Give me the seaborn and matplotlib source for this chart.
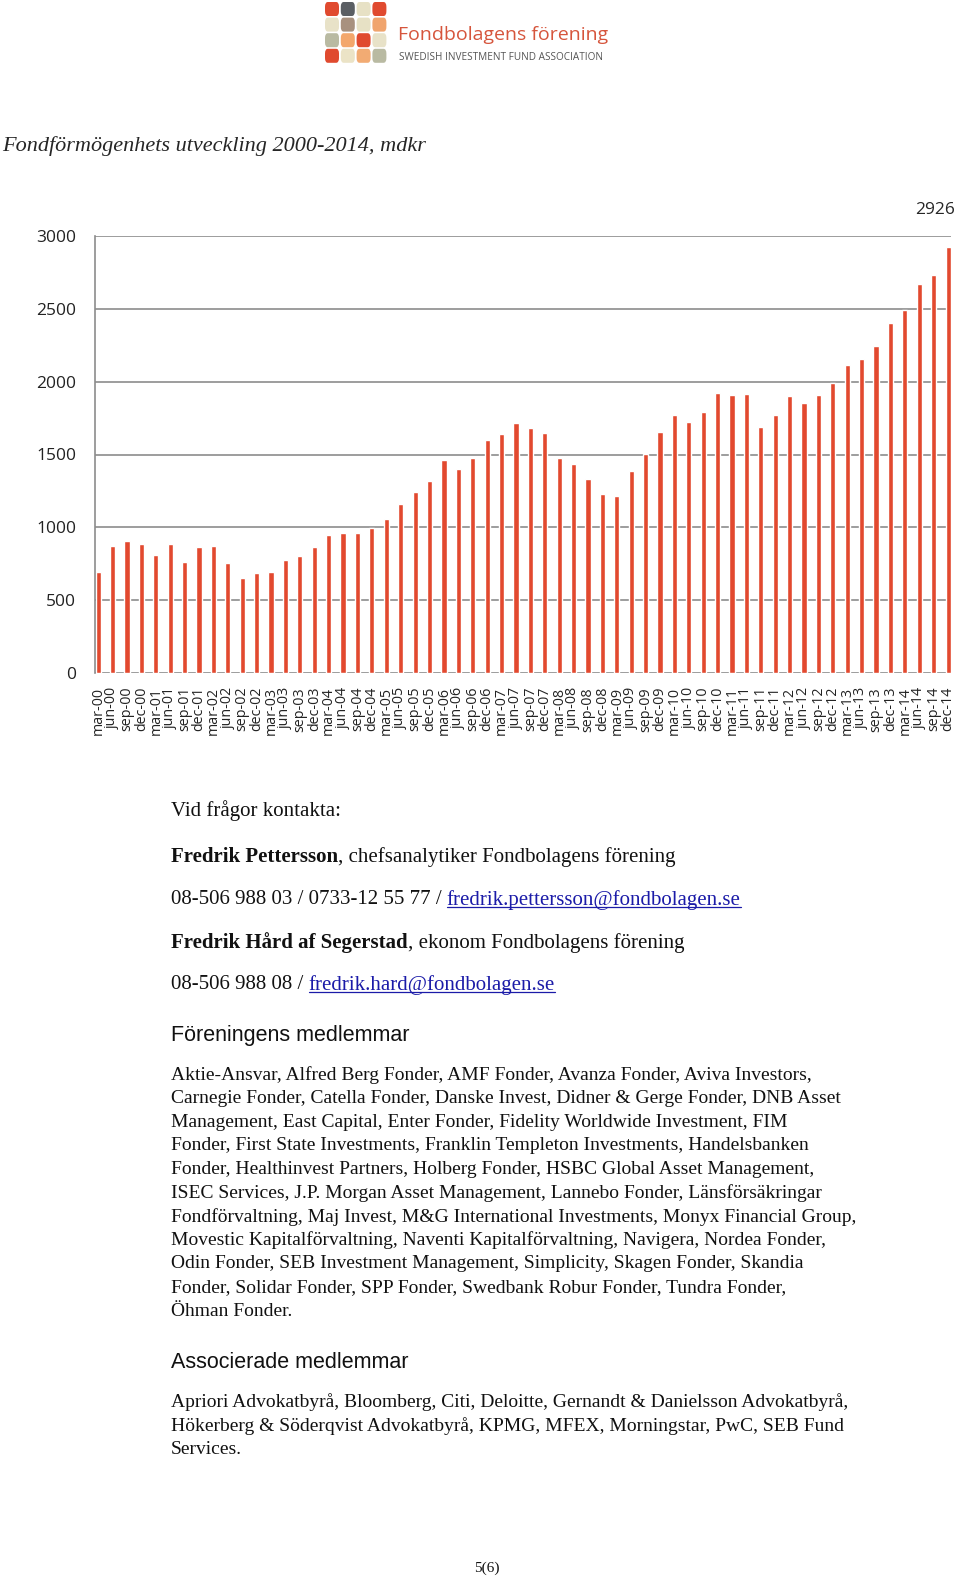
import matplotlib
matplotlib.use("Agg")
import matplotlib.pyplot as plt
import seaborn as sns
from matplotlib.patches import FancyBboxPatch
from matplotlib.lines import Line2D

# Fund assets per quarter, mdkr
quarters = [f"{m}-{y:02d}" for y in range(0, 15) for m in ["mar", "jun", "sep", "dec"]]
assets = [
    693, 873, 907, 887, 807, 887, 763, 863, 873, 756, 651, 688,
    693, 775, 805, 863, 948, 960, 958, 994, 1060, 1157, 1242, 1317,
    1461, 1400, 1473, 1599, 1638, 1715, 1685, 1650, 1478, 1434, 1334, 1232,
    1215, 1388, 1505, 1655, 1772, 1723, 1789, 1923, 1911, 1913, 1689, 1772,
    1901, 1855, 1911, 1993, 2117, 2154, 2248, 2406, 2489, 2671, 2735, 2926,
]
y_ticks = [0, 500, 1000, 1500, 2000, 2500, 3000]

logo_colors = [
    ["#e04a2f", "#5b5f64", "#e7e1c5", "#e04a2f"],
    ["#e8e2c8", "#a8917f", "#e7e1c5", "#f0a46d"],
    ["#b9baa2", "#f3a76c", "#e04a2f", "#e8e2c8"],
    ["#e04a2f", "#ebe3c6", "#f2ab73", "#b9baa2"],
]

members = [
    "Aktie-Ansvar, Alfred Berg Fonder, AMF Fonder, Avanza Fonder, Aviva Investors,",
    "Carnegie Fonder, Catella Fonder, Danske Invest, Didner & Gerge Fonder, DNB Asset",
    "Management, East Capital, Enter Fonder, Fidelity Worldwide Investment, FIM",
    "Fonder, First State Investments, Franklin Templeton Investments, Handelsbanken",
    "Fonder, Healthinvest Partners, Holberg Fonder, HSBC Global Asset Management,",
    "ISEC Services, J.P. Morgan Asset Management, Lannebo Fonder, Länsförsäkringar",
    "Fondförvaltning, Maj Invest, M&G International Investments, Monyx Financial Group,",
    "Movestic Kapitalförvaltning, Naventi Kapitalförvaltning, Navigera, Nordea Fonder,",
    "Odin Fonder, SEB Investment Management, Simplicity, Skagen Fonder, Skandia",
    "Fonder, Solidar Fonder, SPP Fonder, Swedbank Robur Fonder, Tundra Fonder,",
    "Öhman Fonder.",
]
associates = [
    "Apriori Advokatbyrå, Bloomberg, Citi, Deloitte, Gernandt & Danielsson Advokatbyrå,",
    "Hökerberg & Söderqvist Advokatbyrå, KPMG, MFEX, Morningstar, PwC, SEB Fund",
    "Services.",
]

BAR = "#e2492f"
GRID = "#8c8c8c"
LINK = "#1b1ba8"
INK = "#111111"
W, H = 960, 1579

sns.set_style("white")
plt.rcParams["font.family"] = ["Open Sans", "DejaVu Sans"]

fig = plt.figure(figsize=(W / 100, H / 100), dpi=100)


def fx(px):
    return px / W


def fy(py):
    return 1 - py / H


# logo
for r, row in enumerate(logo_colors):
    for c, col in enumerate(row):
        x0 = 325 + c * 15.8
        y0 = 2 + r * 15.6
        fig.patches.append(FancyBboxPatch(
            (fx(x0), fy(y0 + 14)), fx(14), 14 / H,
            boxstyle="round,pad=0,rounding_size=0.003",
            transform=fig.transFigure, facecolor=col, edgecolor="none"))
fig.text(fx(398), fy(35), "Fondbolagens förening", color="#d6553c",
         fontsize=14, va="center", ha="left")
fig.text(fx(399), fy(58), "SWEDISH INVESTMENT FUND ASSOCIATION", color="#555555",
         fontsize=7.2, va="center", ha="left")

# title
fig.text(fx(2), fy(146), "Fondförmögenhets utveckling 2000-2014, mdkr",
         family="Liberation Serif", style="italic", fontsize=16, va="center")

# chart
ax = fig.add_axes([fx(95), fy(673), fx(951 - 95), (673 - 236) / H])
sns.barplot(x=quarters, y=assets, color=BAR, saturation=1, width=0.36, ax=ax)
ax.set_ylim(0, 3000)
ax.set_xlim(-0.22, len(quarters) - 0.8)
ax.set_yticks(y_ticks)
ax.set_axisbelow(True)
ax.yaxis.grid(True, color=GRID, linewidth=1.2)
for s in ["top", "right", "bottom"]:
    ax.spines[s].set_visible(False)
ax.spines["left"].set_color(GRID)
ax.spines["left"].set_linewidth(1.2)
ax.tick_params(axis="y", length=5, width=1.2, color=GRID, pad=8.5,
               labelsize=12.5, labelcolor="#222222")
ax.tick_params(axis="x", length=0, pad=10, labelsize=10.3, labelcolor="#222222",
               labelrotation=90)
ax.set_xlabel("")
ax.set_ylabel("")
ax.annotate(str(assets[-1]), xy=(len(quarters) - 1, 3000), xytext=(-13, 26),
            textcoords="offset pixels", ha="center", va="center", fontsize=12.5)

# text below chart
SERIF = "Liberation Serif"
BODY = 15
fig.canvas.draw()
renderer = fig.canvas.get_renderer()


def run(parts, x, y):
    # parts: list of (text, weight, color, underline)
    for txt, weight, color, under in parts:
        t = fig.text(fx(x), fy(y), txt, family=SERIF, fontsize=BODY,
                     weight=weight, color=color, va="center", ha="left")
        bb = t.get_window_extent(renderer)
        if under:
            uy = bb.y0 + 3
            fig.lines.append(Line2D([bb.x0 / W, bb.x1 / W], [uy / H, uy / H],
                                    transform=fig.transFigure, color=color,
                                    linewidth=0.9))
        x += bb.width


run([("Vid frågor kontakta:", "normal", INK, False)], 171, 811)
run([("Fredrik Pettersson", "bold", INK, False),
     (", chefsanalytiker Fondbolagens förening", "normal", INK, False)], 171, 857)
run([("08-506 988 03 / 0733-12 55 77 / ", "normal", INK, False),
     ("fredrik.pettersson@fondbolagen.se", "normal", LINK, True)], 171, 900)
run([("Fredrik Hård af Segerstad", "bold", INK, False),
     (", ekonom Fondbolagens förening", "normal", INK, False)], 171, 943)
run([("08-506 988 08 / ", "normal", INK, False),
     ("fredrik.hard@fondbolagen.se", "normal", LINK, True)], 171, 985)

fig.text(fx(171), fy(1036), "Föreningens medlemmar", family="Liberation Sans",
         fontsize=15.5, va="center", color=INK)
for i, line in enumerate(members):
    fig.text(fx(171), fy(1075 + i * 23.6), line, family=SERIF, fontsize=14,
             va="center", color=INK)

fig.text(fx(171), fy(1363), "Associerade medlemmar", family="Liberation Sans",
         fontsize=15.5, va="center", color=INK)
for i, line in enumerate(associates):
    fig.text(fx(171), fy(1402 + i * 23.6), line, family=SERIF, fontsize=14,
             va="center", color=INK)

fig.text(fx(487), fy(1568), "5(6)", family=SERIF, fontsize=11, ha="center",
         va="center", color=INK)

fig.savefig("out.png", dpi=100)
